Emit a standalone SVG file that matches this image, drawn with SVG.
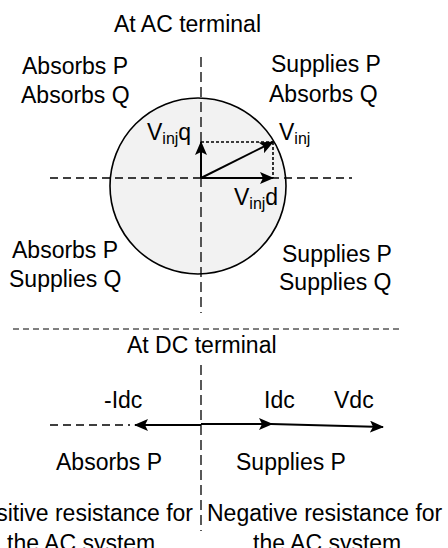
<svg xmlns="http://www.w3.org/2000/svg" width="448" height="548" viewBox="0 0 448 548">
  <style>
    text { font-family: "Liberation Sans", Arial, sans-serif; font-size: 23px; fill: #000; }
    .sub { font-size: 16px; }
    .dash { stroke: #000; stroke-width: 1.3; fill: none; stroke-dasharray: 8 5; }
    .vdash { stroke: #000; stroke-width: 1.3; fill: none; stroke-dasharray: 10 5; }
    .sep { stroke: #000; stroke-width: 1; fill: none; stroke-dasharray: 6 4; }
    .dot { stroke: #000; stroke-width: 1.6; fill: none; stroke-dasharray: 3 2; }
    .arrow { stroke: #000; stroke-width: 2; fill: none; marker-end: url(#ah); }
  </style>
  <defs>
    <marker id="ah" markerUnits="userSpaceOnUse" markerWidth="14" markerHeight="12" refX="13" refY="6" orient="auto">
      <path d="M0,0 L14,6 L0,12 L3,6 Z" fill="#000"/>
    </marker>
  </defs>

  <g id="ac-section">
    <text x="114" y="32">At AC terminal</text>
    <g id="circle">
      <circle cx="198" cy="186" r="88" fill="#f2f2f2" stroke="#000" stroke-width="1.6"/>
    </g>
    <g id="axes">
      <line class="dash" x1="50" y1="178" x2="352" y2="178"/>
      <line class="vdash" x1="201" y1="57" x2="201" y2="313"/>
    </g>
    <g id="quadrant-labels">
      <text x="22" y="74">Absorbs P</text>
      <text x="21" y="103">Absorbs Q</text>
      <text x="271" y="72">Supplies P</text>
      <text x="269" y="102">Absorbs Q</text>
      <text x="12" y="258">Absorbs P</text>
      <text x="9" y="287">Supplies Q</text>
      <text x="282" y="262">Supplies P</text>
      <text x="279" y="290">Supplies Q</text>
    </g>
    <g id="connectors">
      <line class="dot" x1="201" y1="142" x2="273" y2="142"/>
      <line class="dot" x1="273" y1="142" x2="273" y2="178"/>
      <line class="arrow" x1="201" y1="178" x2="201" y2="142"/>
      <line class="arrow" x1="201" y1="178" x2="273" y2="178"/>
      <line class="arrow" x1="201" y1="178" x2="273" y2="142"/>
    </g>
    <g id="vector-labels">
      <text x="147" y="140">V<tspan class="sub" dy="4">inj</tspan><tspan dy="-4">q</tspan></text>
      <text x="279" y="140">V<tspan class="sub" dy="4">inj</tspan></text>
      <text x="234" y="205">V<tspan class="sub" dy="4">inj</tspan><tspan dy="-4">d</tspan></text>
    </g>
  </g>

  <line class="sep" x1="13" y1="329" x2="403" y2="329"/>

  <g id="dc-section">
    <text x="127" y="353">At DC terminal</text>
    <line class="vdash" x1="201" y1="365" x2="201" y2="531"/>
    <g id="dc-connectors">
      <line class="dash" x1="50" y1="425" x2="130" y2="425"/>
      <line class="arrow" x1="201" y1="425" x2="135" y2="425"/>
      <line class="arrow" x1="201" y1="424" x2="272" y2="424"/>
      <line class="arrow" x1="271" y1="424" x2="383" y2="427"/>
    </g>
    <text x="104" y="408">-Idc</text>
    <text x="264" y="408">Idc</text>
    <text x="334" y="408">Vdc</text>
    <text x="56" y="470">Absorbs P</text>
    <text x="236" y="470">Supplies P</text>
    <text x="193" y="521" text-anchor="end">Positive resistance for</text>
    <text x="207" y="521">Negative resistance for</text>
    <text x="7" y="551">the AC system</text>
    <text x="253" y="551">the AC system</text>
  </g>
</svg>
